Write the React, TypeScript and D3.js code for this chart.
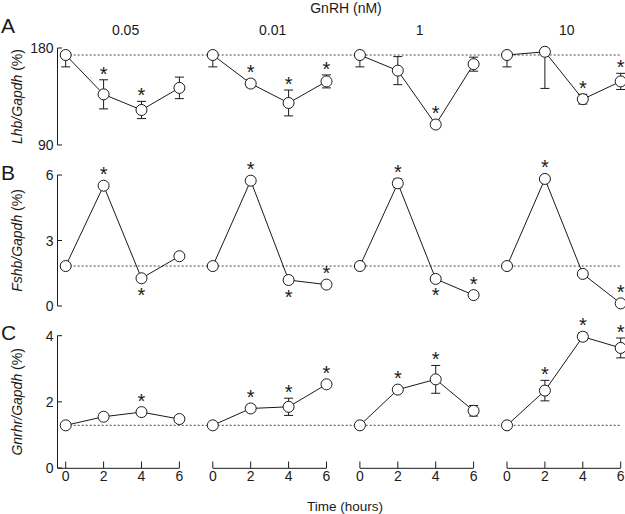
import React from "react";
import * as d3 from "d3";

const times = [0, 2, 4, 6];
const doses = ["0.05", "0.01", "1", "10"];

// Panel A: Lhb/Gapdh (%)
const lhbMean = [
  [173.5, 137, 122.5, 143],
  [173.5, 147, 129, 149],
  [173.5, 159, 109, 165],
  [173.5, 176.5, 132.5, 149],
];
const lhbErrLow = [
  [11, 13.5, 8, 10],
  [11, 3.5, 12, 6],
  [11, 13, 3, 6.5],
  [11, 34, 4.5, 7.5],
];
const lhbErrHigh = [
  [0, 13.5, 8, 10],
  [0, 3.5, 12, 6],
  [0, 13, 3, 6.5],
  [0, 0, 4.5, 7.5],
];
const lhbStars = [
  ["", "up", "up", ""],
  ["", "up", "up", "up"],
  ["", "", "up", ""],
  ["", "", "up", "up"],
];
const lhbTicks = [90, 180];

// Panel B: Fshb/Gapdh (%)
const fshbMean = [
  [1.83, 5.51, 1.27, 2.28],
  [1.83, 5.74, 1.19, 0.98],
  [1.83, 5.62, 1.24, 0.5],
  [1.83, 5.82, 1.47, 0.12],
];
const fshbErr = [
  [0.03, 0.08, 0.05, 0.05],
  [0.03, 0.15, 0.05, 0.05],
  [0.03, 0.2, 0.05, 0.05],
  [0.03, 0.08, 0.05, 0.05],
];
const fshbStars = [
  ["", "up", "down", ""],
  ["", "up", "down", "up"],
  ["", "up", "down", "up"],
  ["", "up", "", "up"],
];
const fshbTicks = [0, 3, 6];

// Panel C: Gnrhr/Gapdh (%)
const gnrhrMean = [
  [1.29, 1.55, 1.69, 1.48],
  [1.29, 1.8, 1.85, 2.53],
  [1.29, 2.37, 2.68, 1.73],
  [1.29, 2.34, 3.97, 3.63],
];
const gnrhrErr = [
  [0.03, 0.1, 0.07, 0.05],
  [0.03, 0.1, 0.26, 0.05],
  [0.03, 0.05, 0.42, 0.16],
  [0.03, 0.31, 0.12, 0.3],
];
const gnrhrStars = [
  ["", "", "up", ""],
  ["", "up", "up", "up"],
  ["", "up", "up", ""],
  ["", "up", "up", "up"],
];
const gnrhrTicks = [0, 2, 4];

const FONT = "'Liberation Sans', Arial, Helvetica, sans-serif";
const INK = "#1a1a1a";

export default function App() {
  const doseX = d3.scalePoint<string>().domain(doses).range([65.7, 507]);
  const tX = d3.scaleLinear().domain([0, 6]).range([0, 113.7]);
  const axisX = 57.5;
  const r = 5.5;

  const rows = [
    {
      letter: "A", gene: "Lhb", mean: lhbMean, lo: lhbErrLow, hi: lhbErrHigh,
      stars: lhbStars, ticks: lhbTicks,
      y: d3.scaleLinear().domain([90, 180]).range([145, 48]), letterY: 33,
    },
    {
      letter: "B", gene: "Fshb", mean: fshbMean, lo: fshbErr, hi: fshbErr,
      stars: fshbStars, ticks: fshbTicks,
      y: d3.scaleLinear().domain([0, 6]).range([306, 175]), letterY: 180,
    },
    {
      letter: "C", gene: "Gnrhr", mean: gnrhrMean, lo: gnrhrErr, hi: gnrhrErr,
      stars: gnrhrStars, ticks: gnrhrTicks,
      y: d3.scaleLinear().domain([0, 4]).range([468, 335.7]), letterY: 340,
    },
  ];

  const line = d3.line<[number, number]>().x((d) => d[0]).y((d) => d[1]);
  const firstX = (doseX(doses[0]) as number) + tX(0);
  const lastX = (doseX(doses[doses.length - 1]) as number) + tX(6);

  return (
    <svg
      width={625}
      height={514}
      style={{ position: "absolute", left: 0, top: 0, background: "#fff" }}
      fontFamily={FONT}
    >
      <rect x={0} y={0} width={625} height={514} fill="#fff" />
      <text x={346} y={13} fontSize={14} textAnchor="middle" fill={INK}>GnRH (nM)</text>
      {doses.map((d) => (
        <text key={d} x={(doseX(d) as number) + tX(3) + 3} y={35} fontSize={14} textAnchor="middle" fill={INK}>
          {d}
        </text>
      ))}
      {rows.map((row, ri) => {
        const y = row.y;
        const [y0, y1] = y.range();
        const base = row.mean[0][0];
        const mid = (y0 + y1) / 2;
        return (
          <g key={row.letter}>
            <text x={1} y={row.letterY} fontSize={21} fill={INK}>{row.letter}</text>
            {/* y axis */}
            <line x1={axisX} x2={axisX} y1={y1} y2={y0} stroke={INK} strokeWidth={1} />
            {row.ticks.map((t) => (
              <g key={t}>
                <line x1={axisX} x2={axisX + 4.5} y1={y(t)} y2={y(t)} stroke={INK} strokeWidth={1} />
                <text x={axisX - 4} y={y(t) + 5} fontSize={14} textAnchor="end" fill={INK}>{t}</text>
              </g>
            ))}
            <text
              transform={`translate(22,${mid}) rotate(-90)`}
              textAnchor="middle"
              fontSize={14}
              fill={INK}
            >
              <tspan fontStyle="italic">{row.gene}/Gapdh</tspan>
              <tspan> (%)</tspan>
            </text>
            {/* baseline */}
            <line
              x1={firstX}
              x2={lastX + 1}
              y1={y(base)}
              y2={y(base)}
              stroke="#444"
              strokeWidth={1}
              strokeDasharray="2,2"
            />
            {doses.map((d, pi) => {
              const ox = doseX(d) as number;
              const pts: [number, number][] = times.map((t, ti) => [ox + tX(t), y(row.mean[pi][ti])]);
              return (
                <g key={d}>
                  {times.map((t, ti) => {
                    const cx = ox + tX(t);
                    const m = row.mean[pi][ti];
                    const top = y(m + row.hi[pi][ti]);
                    const bot = y(m - row.lo[pi][ti]);
                    return (
                      <g key={t} stroke={INK} strokeWidth={1}>
                        <line x1={cx} x2={cx} y1={top} y2={bot} />
                        {row.hi[pi][ti] > 0 && <line x1={cx - 4.5} x2={cx + 4.5} y1={top} y2={top} />}
                        {row.lo[pi][ti] > 0 && <line x1={cx - 4.5} x2={cx + 4.5} y1={bot} y2={bot} />}
                      </g>
                    );
                  })}
                  <path d={line(pts) || ""} fill="none" stroke={INK} strokeWidth={1} />
                  {pts.map((p, ti) => (
                    <circle key={ti} cx={p[0]} cy={p[1]} r={r} fill="#fff" stroke={INK} strokeWidth={1} />
                  ))}
                  {times.map((t, ti) => {
                    const s = row.stars[pi][ti];
                    if (!s) return null;
                    const cx = ox + tX(t);
                    const m = row.mean[pi][ti];
                    let cy;
                    if (s === "up") {
                      cy = Math.min(y(m) - r, y(m + row.hi[pi][ti])) - 10;
                    } else {
                      cy = Math.max(y(m) + r, y(m - row.lo[pi][ti])) + 7;
                    }
                    return (
                      <text key={"s" + t} x={cx} y={cy + 11} fontSize={20} textAnchor="middle" fill={INK}>*</text>
                    );
                  })}
                  {ri === rows.length - 1 && (
                    <g stroke={INK} strokeWidth={1}>
                      <line
                        x1={pi === 0 ? axisX : ox + tX(0)}
                        x2={ox + tX(6)}
                        y1={y0 + 0.3}
                        y2={y0 + 0.3}
                      />
                      {times.map((t) => (
                        <g key={t}>
                          <line x1={ox + tX(t)} x2={ox + tX(t)} y1={y0} y2={y0 - 6.5} />
                          <text
                            x={ox + tX(t)}
                            y={y0 + 13}
                            fontSize={14}
                            textAnchor="middle"
                            fill={INK}
                            stroke="none"
                          >
                            {t}
                          </text>
                        </g>
                      ))}
                    </g>
                  )}
                </g>
              );
            })}
          </g>
        );
      })}
      <text x={345} y={511} fontSize={13.5} textAnchor="middle" fill={INK}>Time (hours)</text>
    </svg>
  );
}
